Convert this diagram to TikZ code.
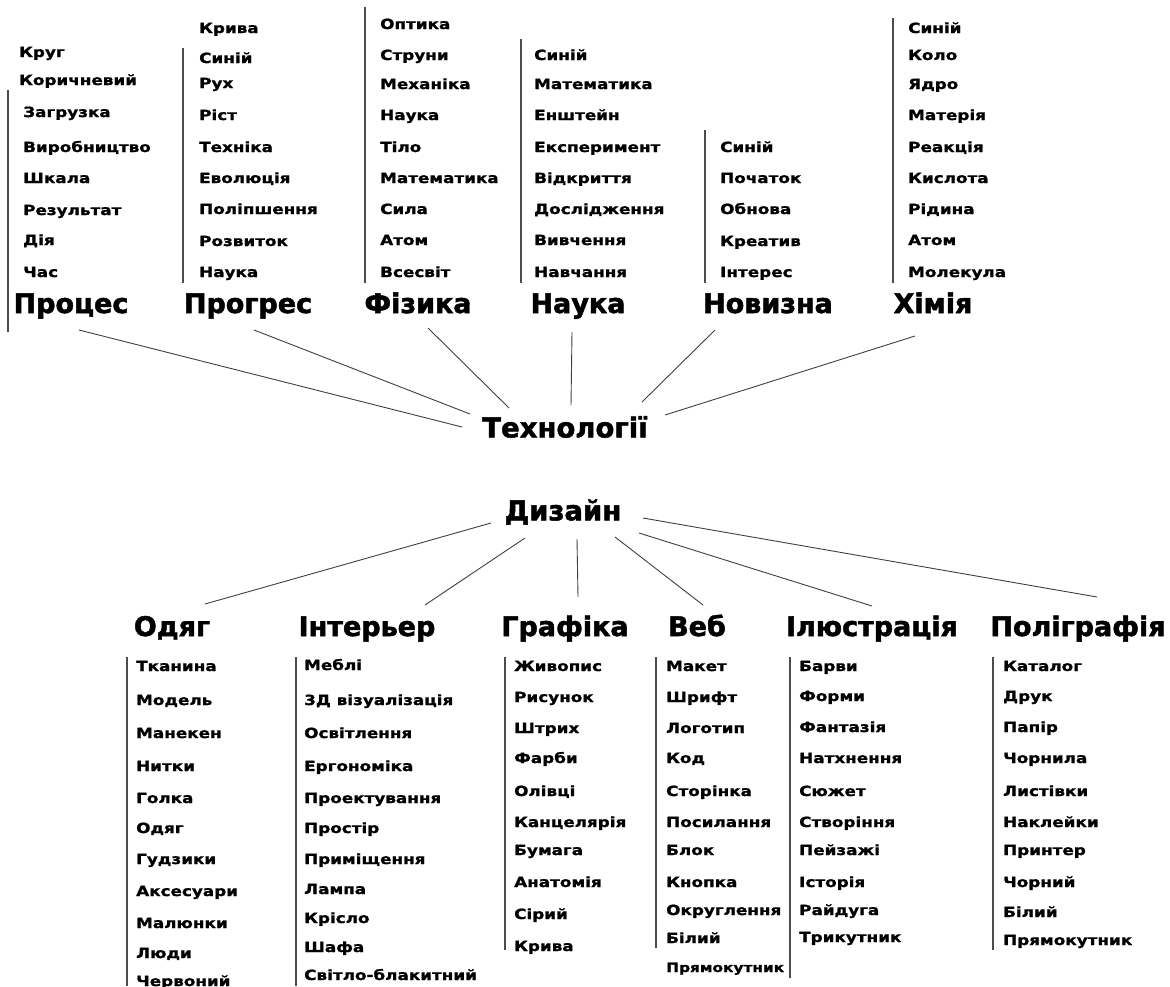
\documentclass[tikz,border=0pt]{standalone}
\usepackage{fontspec}
\setmainfont{DejaVu Sans}
\newfontfamily\itemfont{DejaVu Sans}[FakeStretch=1.2,FakeBold=1.2]
\newfontfamily\headfont{DejaVu Sans}[FakeBold=1.8]
\usetikzlibrary{calc}
\begin{document}
\begin{tikzpicture}[x=1pt,y=-1pt,
  item/.style={anchor=base west,inner sep=0pt,font=\itemfont\bfseries\fontsize{14}{16}\selectfont},
  head/.style={anchor=base,inner sep=0pt,font=\headfont\bfseries\fontsize{27}{31}\selectfont},
  hub/.style={inner sep=0pt,font=\headfont\bfseries\fontsize{27.5}{31}\selectfont},
  vline/.style={draw=black!70,line width=1.1pt},
  conn/.style={draw=black!75,line width=0.9pt}]
\useasboundingbox[fill=white] (0,0) rectangle (1170,986);

% hubs
\node[hub] (tech) at (565,427) {Технології};
\node[hub] (des) at (563,512) {Дизайн};

% top headings
\node[head] (h1) at (71,313) {Процес};
\node[head] (h2) at (248,313) {Прогрес};
\node[head] (h3) at (418,313) {Фізика};
\node[head] (h4) at (578,313) {Наука};
\node[head] (h5) at (768,313) {Новизна};
\node[head] (h6) at (933,313) {Хімія};

% bottom headings
\node[head] (b1) at (172,636) {Одяг};
\node[head] (b2) at (367,636) {Інтерьер};
\node[head] (b3) at (565,636) {Графіка};
\node[head] (b4) at (697,636) {Веб};
\node[head] (b5) at (872,636) {Ілюстрація};
\node[head] (b6) at (1078,636) {Поліграфія};

% top lists
\node[item] (p0a) at (19,57) {Круг};
\node[item] (p0b) at (19,85) {Коричневий};
\foreach \t/\y [count=\i] in {Загрузка/112,Виробництво/147,Шкала/178,Результат/210,Дія/240,Час/272}
  \node[item] (p\i) at (23,\y+5) {\t};
\foreach \t/\y [count=\i] in {Крива/28,Синій/58,Рух/83,Ріст/115,Техніка/147,Еволюція/178,Поліпшення/209,Розвиток/241,Наука/272}
  \node[item] (q\i) at (199,\y+5) {\t};
\foreach \t/\y [count=\i] in {Оптика/24,Струни/55,Механіка/84,Наука/115,Тіло/147,Математика/178,Сила/209,Атом/240,Всесвіт/272}
  \node[item] (r\i) at (380,\y+5) {\t};
\foreach \t/\y [count=\i] in {Синій/55,Математика/84,Енштейн/115,Експеримент/147,Відкриття/178,Дослідження/209,Вивчення/240,Навчання/272}
  \node[item] (s\i) at (534,\y+5) {\t};
\foreach \t/\y [count=\i] in {Синій/147,Початок/178,Обнова/209,Креатив/241,Інтерес/272}
  \node[item] (n\i) at (720,\y+5) {\t};
\foreach \t/\y [count=\i] in {Синій/28,Коло/55,Ядро/84,Матерія/115,Реакція/147,Кислота/178,Рідина/209,Атом/240,Молекула/272}
  \node[item] (k\i) at (908,\y+5) {\t};

% bottom lists
\foreach \t/\y [count=\i] in {Тканина/666,Модель/700,Манекен/733,Нитки/766,Голка/798,Одяг/828,Гудзики/859,Аксесуари/891,Малюнки/923,Люди/953,Червоний/981}
  \node[item] (o\i) at (136,\y+5) {\t};
\foreach \t/\y [count=\i] in {Меблі/665,3Д візуалізація/700,Освітлення/733,Ергономіка/766,Проектування/798,Простір/828,Приміщення/859,Лампа/889,Крісло/918,Шафа/947,Світло-блакитний/975}
  \node[item] (i\i) at (304,\y+5) {\t};
\foreach \t/\y [count=\i] in {Живопис/666,Рисунок/697,Штрих/728,Фарби/758,Олівці/791,Канцелярія/822,Бумага/850,Анатомія/882,Сірий/914,Крива/946}
  \node[item] (g\i) at (514,\y+5) {\t};
\foreach \t/\y [count=\i] in {Макет/666,Шрифт/697,Логотип/728,Код/758,Сторінка/791,Посилання/822,Блок/850,Кнопка/882,Округлення/910,Білий/938}
  \node[item] (w\i) at (666,\y+5) {\t};
\node[item,font=\itemfont\bfseries\fontsize{12.8}{15}\selectfont] (w11) at (666,972) {Прямокутник};
\foreach \t/\y [count=\i] in {Барви/666,Форми/696,Фантазія/727,Натхнення/758,Сюжет/791,Створіння/822,Пейзажі/850,Історія/882,Райдуга/910,Трикутник/937}
  \node[item] (l\i) at (799,\y+5) {\t};
\foreach \t/\y [count=\i] in {Каталог/666,Друк/696,Папір/727,Чорнила/758,Листівки/791,Наклейки/822,Принтер/850,Чорний/882,Білий/912,Прямокутник/940}
  \node[item] (m\i) at (1003,\y+5) {\t};

% vertical rules
\draw[vline] (8,90) -- (8,332);
\draw[vline] (183,48) -- (183,283);
\draw[vline] (365,7) -- (365,283);
\draw[vline] (521,39) -- (521,283);
\draw[vline] (705,130) -- (705,283);
\draw[vline] (893,18) -- (893,283);
\draw[vline] (127,657) -- (127,986);
\draw[vline] (296,657) -- (296,986);
\draw[vline] (505,657) -- (505,950);
\draw[vline] (656,657) -- (656,948);
\draw[vline] (790,657) -- (790,978);
\draw[vline] (993,657) -- (993,950);

% connector end points
\coordinate (t1) at ($(h1.base)+(8,17)$);
\coordinate (t2) at ($(h2.base)+(6,17)$);
\coordinate (t3) at ($(h3.base)+(10,15)$);
\coordinate (t4) at ($(h4.base)+(-6,19)$);
\coordinate (t5) at ($(h5.base)+(-53,17)$);
\coordinate (t6) at ($(h6.base)+(-18,23)$);
\coordinate (u1) at ($(tech)+(-103,0)$);
\coordinate (u2) at ($(tech)+(-95,-13)$);
\coordinate (u3) at ($(tech)+(-56,-19)$);
\coordinate (u4) at ($(tech)+(6,-22)$);
\coordinate (u5) at ($(tech)+(77,-25)$);
\coordinate (u6) at ($(tech)+(100,-12)$);
\foreach \i in {1,...,6} \draw[conn] (t\i) -- (u\i);

\coordinate (d1) at ($(des)+(-72,11)$);
\coordinate (d2) at ($(des)+(-38,26)$);
\coordinate (d3) at ($(des)+(14,27)$);
\coordinate (d4) at ($(des)+(52,25)$);
\coordinate (d5) at ($(des)+(76,21)$);
\coordinate (d6) at ($(des)+(80,6)$);
\coordinate (e1) at ($(b1.base)+(33,-32)$);
\coordinate (e2) at ($(b2.base)+(58,-31)$);
\coordinate (e3) at ($(b3.base)+(13,-39)$);
\coordinate (e4) at ($(b4.base)+(6,-31)$);
\coordinate (e5) at ($(b5.base)+(0,-30)$);
\coordinate (e6) at ($(b6.base)+(19,-39)$);
\foreach \i in {1,...,6} \draw[conn] (d\i) -- (e\i);
\end{tikzpicture}
\end{document}
